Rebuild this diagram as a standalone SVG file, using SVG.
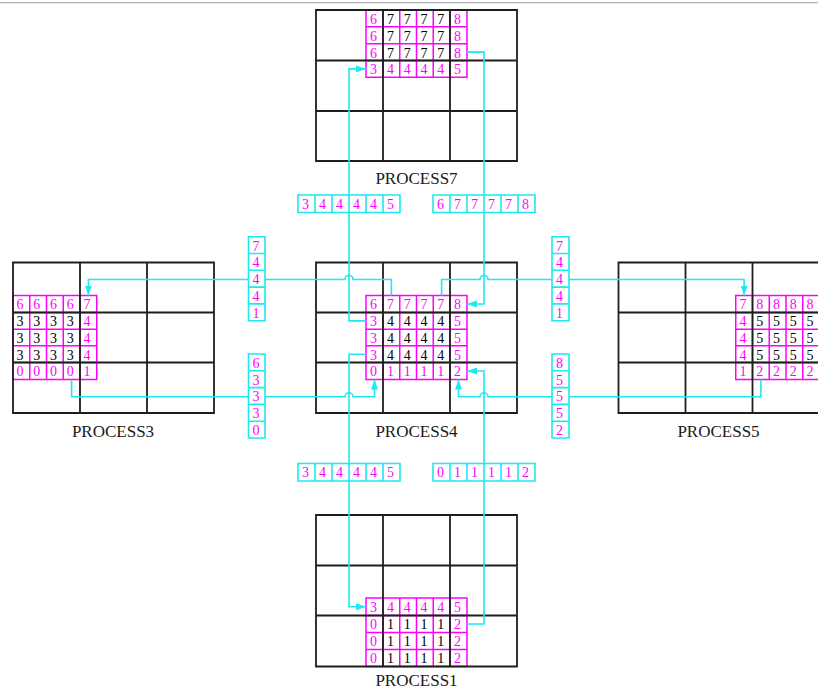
<svg xmlns="http://www.w3.org/2000/svg" width="818" height="690" viewBox="0 0 818 690">
<style>
.bg{fill:#fff}
.grid{fill:none;stroke:#1e1e1e;stroke-width:1.8}
.blk{fill:#fff;stroke:#ff00ff;stroke-width:1.5}
.strip{fill:#fff;stroke:#1ee8f2;stroke-width:1.6}
.d{font-family:"Liberation Serif","Times New Roman",serif;font-size:14px}
.m{fill:#ff00ff}
.k{fill:#000}
.lbl{font-family:"Liberation Serif","Times New Roman",serif;font-size:17px;fill:#1a1a1a;text-anchor:middle}
.con{fill:none;stroke:#1ee8f2;stroke-width:1.6}
.arr{marker-end:url(#ah)}
</style>
<defs>
<marker id="ah" markerUnits="userSpaceOnUse" viewBox="0 0 10 7" refX="10" refY="3.5" markerWidth="10" markerHeight="7" orient="auto">
<path d="M0,0 L10,3.5 L0,7 z" fill="#1ee8f2"/>
</marker>
</defs>
<rect class="bg" x="0" y="0" width="818" height="690"/>
<rect x="0" y="2" width="818" height="1.3" fill="#b4b4b8"/>

<!-- PROCESS7 -->
<g id="process7">
<path class="blk" d="M366,10H467V77.3H366Z M383,10V77.3 M399.75,10V77.3 M416.5,10V77.3 M433.25,10V77.3 M450,10V77.3 M366,26.8H467 M366,43.7H467 M366,60.5H467"/>
<path class="grid" d="M316,10H517V161H316Z M383,10V161 M450,10V161 M316,60.5H517 M316,111H517"/>
<g class="d">
<text class="m" x="370" y="23.8">6</text><text class="k" x="387" y="23.8">7</text><text class="k" x="403.75" y="23.8">7</text><text class="k" x="420.5" y="23.8">7</text><text class="k" x="437.25" y="23.8">7</text><text class="m" x="454" y="23.8">8</text>
<text class="m" x="370" y="40.6">6</text><text class="k" x="387" y="40.6">7</text><text class="k" x="403.75" y="40.6">7</text><text class="k" x="420.5" y="40.6">7</text><text class="k" x="437.25" y="40.6">7</text><text class="m" x="454" y="40.6">8</text>
<text class="m" x="370" y="57.5">6</text><text class="k" x="387" y="57.5">7</text><text class="k" x="403.75" y="57.5">7</text><text class="k" x="420.5" y="57.5">7</text><text class="k" x="437.25" y="57.5">7</text><text class="m" x="454" y="57.5">8</text>
<text class="m" x="370" y="74.3">3</text><text class="m" x="387" y="74.3">4</text><text class="m" x="403.75" y="74.3">4</text><text class="m" x="420.5" y="74.3">4</text><text class="m" x="437.25" y="74.3">4</text><text class="m" x="454" y="74.3">5</text>
</g>
<text class="lbl" x="416.5" y="184">PROCESS7</text>
</g>

<!-- PROCESS4 -->
<g id="process4">
<path class="blk" d="M366,295.5H467V379.5H366Z M383,295.5V379.5 M399.75,295.5V379.5 M416.5,295.5V379.5 M433.25,295.5V379.5 M450,295.5V379.5 M366,312.5H467 M366,329.2H467 M366,345.8H467 M366,362.5H467"/>
<path class="grid" d="M316,262.5H517V413H316Z M383,262.5V413 M450,262.5V413 M316,312.5H517 M316,362.5H517"/>
<g class="d">
<text class="m" x="370" y="309.3">6</text><text class="m" x="387" y="309.3">7</text><text class="m" x="403.75" y="309.3">7</text><text class="m" x="420.5" y="309.3">7</text><text class="m" x="437.25" y="309.3">7</text><text class="m" x="454" y="309.3">8</text>
<text class="m" x="370" y="326.3">3</text><text class="k" x="387" y="326.3">4</text><text class="k" x="403.75" y="326.3">4</text><text class="k" x="420.5" y="326.3">4</text><text class="k" x="437.25" y="326.3">4</text><text class="m" x="454" y="326.3">5</text>
<text class="m" x="370" y="343">3</text><text class="k" x="387" y="343">4</text><text class="k" x="403.75" y="343">4</text><text class="k" x="420.5" y="343">4</text><text class="k" x="437.25" y="343">4</text><text class="m" x="454" y="343">5</text>
<text class="m" x="370" y="359.6">3</text><text class="k" x="387" y="359.6">4</text><text class="k" x="403.75" y="359.6">4</text><text class="k" x="420.5" y="359.6">4</text><text class="k" x="437.25" y="359.6">4</text><text class="m" x="454" y="359.6">5</text>
<text class="m" x="370" y="376.3">0</text><text class="m" x="387" y="376.3">1</text><text class="m" x="403.75" y="376.3">1</text><text class="m" x="420.5" y="376.3">1</text><text class="m" x="437.25" y="376.3">1</text><text class="m" x="454" y="376.3">2</text>
</g>
<text class="lbl" x="416.5" y="437">PROCESS4</text>
</g>

<!-- PROCESS3 -->
<g id="process3">
<path class="blk" d="M13,295.5H96.75V379.5H13Z M29.75,295.5V379.5 M46.5,295.5V379.5 M63.25,295.5V379.5 M80,295.5V379.5 M13,312.5H96.75 M13,329.2H96.75 M13,345.8H96.75 M13,362.5H96.75"/>
<path class="grid" d="M13,262.5H214V413H13Z M80,262.5V413 M147,262.5V413 M13,312.5H214 M13,362.5H214"/>
<g class="d">
<text class="m" x="16.5" y="309.3">6</text><text class="m" x="33.25" y="309.3">6</text><text class="m" x="50" y="309.3">6</text><text class="m" x="66.75" y="309.3">6</text><text class="m" x="83.5" y="309.3">7</text>
<text class="k" x="16.5" y="326.3">3</text><text class="k" x="33.25" y="326.3">3</text><text class="k" x="50" y="326.3">3</text><text class="k" x="66.75" y="326.3">3</text><text class="m" x="83.5" y="326.3">4</text>
<text class="k" x="16.5" y="343">3</text><text class="k" x="33.25" y="343">3</text><text class="k" x="50" y="343">3</text><text class="k" x="66.75" y="343">3</text><text class="m" x="83.5" y="343">4</text>
<text class="k" x="16.5" y="359.6">3</text><text class="k" x="33.25" y="359.6">3</text><text class="k" x="50" y="359.6">3</text><text class="k" x="66.75" y="359.6">3</text><text class="m" x="83.5" y="359.6">4</text>
<text class="m" x="16.5" y="376.3">0</text><text class="m" x="33.25" y="376.3">0</text><text class="m" x="50" y="376.3">0</text><text class="m" x="66.75" y="376.3">0</text><text class="m" x="83.5" y="376.3">1</text>
</g>
<text class="lbl" x="113" y="437">PROCESS3</text>
</g>

<!-- PROCESS5 -->
<g id="process5">
<path class="blk" d="M735.75,295.5H819.5V379.5H735.75Z M752.5,295.5V379.5 M769.25,295.5V379.5 M786,295.5V379.5 M802.75,295.5V379.5 M735.75,312.5H819.5 M735.75,329.2H819.5 M735.75,345.8H819.5 M735.75,362.5H819.5"/>
<path class="grid" d="M618.5,262.5H819.5V413H618.5Z M685.5,262.5V413 M752.5,262.5V413 M618.5,312.5H819.5 M618.5,362.5H819.5"/>
<g class="d">
<text class="m" x="739.5" y="309.3">7</text><text class="m" x="756.25" y="309.3">8</text><text class="m" x="773" y="309.3">8</text><text class="m" x="789.75" y="309.3">8</text><text class="m" x="806.5" y="309.3">8</text>
<text class="m" x="739.5" y="326.3">4</text><text class="k" x="756.25" y="326.3">5</text><text class="k" x="773" y="326.3">5</text><text class="k" x="789.75" y="326.3">5</text><text class="k" x="806.5" y="326.3">5</text>
<text class="m" x="739.5" y="343">4</text><text class="k" x="756.25" y="343">5</text><text class="k" x="773" y="343">5</text><text class="k" x="789.75" y="343">5</text><text class="k" x="806.5" y="343">5</text>
<text class="m" x="739.5" y="359.6">4</text><text class="k" x="756.25" y="359.6">5</text><text class="k" x="773" y="359.6">5</text><text class="k" x="789.75" y="359.6">5</text><text class="k" x="806.5" y="359.6">5</text>
<text class="m" x="739.5" y="376.3">1</text><text class="m" x="756.25" y="376.3">2</text><text class="m" x="773" y="376.3">2</text><text class="m" x="789.75" y="376.3">2</text><text class="m" x="806.5" y="376.3">2</text>
</g>
<text class="lbl" x="718.5" y="437">PROCESS5</text>
</g>

<!-- PROCESS1 -->
<g id="process1">
<path class="blk" d="M366,598H467V666.5H366Z M383,598V666.5 M399.75,598V666.5 M416.5,598V666.5 M433.25,598V666.5 M450,598V666.5 M366,615.5H467 M366,632.5H467 M366,649.5H467"/>
<path class="grid" d="M316,515H517V666.5H316Z M383,515V666.5 M450,515V666.5 M316,565.5H517 M316,615.5H517"/>
<g class="d">
<text class="m" x="370" y="611.8">3</text><text class="m" x="387" y="611.8">4</text><text class="m" x="403.75" y="611.8">4</text><text class="m" x="420.5" y="611.8">4</text><text class="m" x="437.25" y="611.8">4</text><text class="m" x="454" y="611.8">5</text>
<text class="m" x="370" y="629.3">0</text><text class="k" x="387" y="629.3">1</text><text class="k" x="403.75" y="629.3">1</text><text class="k" x="420.5" y="629.3">1</text><text class="k" x="437.25" y="629.3">1</text><text class="m" x="454" y="629.3">2</text>
<text class="m" x="370" y="646.3">0</text><text class="k" x="387" y="646.3">1</text><text class="k" x="403.75" y="646.3">1</text><text class="k" x="420.5" y="646.3">1</text><text class="k" x="437.25" y="646.3">1</text><text class="m" x="454" y="646.3">2</text>
<text class="m" x="370" y="663.3">0</text><text class="k" x="387" y="663.3">1</text><text class="k" x="403.75" y="663.3">1</text><text class="k" x="420.5" y="663.3">1</text><text class="k" x="437.25" y="663.3">1</text><text class="m" x="454" y="663.3">2</text>
</g>
<text class="lbl" x="416.5" y="685.5">PROCESS1</text>
</g>

<!-- connectors -->
<g id="connectors">
<path class="con arr" d="M366,320.9H349V68.9H366"/>
<path class="con arr" d="M467,52.1H484V304H467"/>
<path class="con arr" d="M391.4,295.5V279.5H353A4,4 0 0 0 345,279.5H88.4V295.5"/>
<path class="con arr" d="M441.6,295.5V279.5H480A4,4 0 0 1 488,279.5H744.1V295.5"/>
<path class="con arr" d="M71.6,379.5V396.8H345A4,4 0 0 1 353,396.8H374.5V379.5"/>
<path class="con arr" d="M366,354.2H349V606.8H366"/>
<path class="con arr" d="M467,624H484V371H467"/>
<path class="con arr" d="M760.9,379.5V396.8H488A4,4 0 0 0 480,396.8H458.5V379.5"/>
</g>

<!-- message strips -->
<g id="strip-up-left">
<path class="strip" d="M298,195H400V212.5H298Z M315,195V212.5 M332,195V212.5 M349,195V212.5 M366,195V212.5 M383,195V212.5"/>
<g class="d m"><text x="302" y="208.8">3</text><text x="319" y="208.8">4</text><text x="336" y="208.8">4</text><text x="353" y="208.8">4</text><text x="370" y="208.8">4</text><text x="387" y="208.8">5</text></g>
</g>
<g id="strip-up-right">
<path class="strip" d="M433,195H535V212.5H433Z M450,195V212.5 M467,195V212.5 M484,195V212.5 M501,195V212.5 M518,195V212.5"/>
<g class="d m"><text x="437" y="208.8">6</text><text x="454" y="208.8">7</text><text x="471" y="208.8">7</text><text x="488" y="208.8">7</text><text x="505" y="208.8">7</text><text x="522" y="208.8">8</text></g>
</g>
<g id="strip-down-left">
<path class="strip" d="M298,463.5H400V481H298Z M315,463.5V481 M332,463.5V481 M349,463.5V481 M366,463.5V481 M383,463.5V481"/>
<g class="d m"><text x="302" y="477.3">3</text><text x="319" y="477.3">4</text><text x="336" y="477.3">4</text><text x="353" y="477.3">4</text><text x="370" y="477.3">4</text><text x="387" y="477.3">5</text></g>
</g>
<g id="strip-down-right">
<path class="strip" d="M433,463.5H535V481H433Z M450,463.5V481 M467,463.5V481 M484,463.5V481 M501,463.5V481 M518,463.5V481"/>
<g class="d m"><text x="437" y="477.3">0</text><text x="454" y="477.3">1</text><text x="471" y="477.3">1</text><text x="488" y="477.3">1</text><text x="505" y="477.3">1</text><text x="522" y="477.3">2</text></g>
</g>
<g id="strip-left-upper">
<path class="strip" d="M248.5,236.7H265V320.7H248.5Z M248.5,253.5H265 M248.5,270.3H265 M248.5,287.1H265 M248.5,303.9H265"/>
<g class="d m"><text x="252.5" y="250.5">7</text><text x="252.5" y="267.3">4</text><text x="252.5" y="284.1">4</text><text x="252.5" y="300.9">4</text><text x="252.5" y="317.7">1</text></g>
</g>
<g id="strip-left-lower">
<path class="strip" d="M248.5,354H265V438H248.5Z M248.5,370.8H265 M248.5,387.6H265 M248.5,404.4H265 M248.5,421.2H265"/>
<g class="d m"><text x="252.5" y="367.8">6</text><text x="252.5" y="384.6">3</text><text x="252.5" y="401.4">3</text><text x="252.5" y="418.2">3</text><text x="252.5" y="435">0</text></g>
</g>
<g id="strip-right-upper">
<path class="strip" d="M552,236.7H569V320.7H552Z M552,253.5H569 M552,270.3H569 M552,287.1H569 M552,303.9H569"/>
<g class="d m"><text x="556" y="250.5">7</text><text x="556" y="267.3">4</text><text x="556" y="284.1">4</text><text x="556" y="300.9">4</text><text x="556" y="317.7">1</text></g>
</g>
<g id="strip-right-lower">
<path class="strip" d="M552,354H569V438H552Z M552,370.8H569 M552,387.6H569 M552,404.4H569 M552,421.2H569"/>
<g class="d m"><text x="556" y="367.8">8</text><text x="556" y="384.6">5</text><text x="556" y="401.4">5</text><text x="556" y="418.2">5</text><text x="556" y="435">2</text></g>
</g>
</svg>
